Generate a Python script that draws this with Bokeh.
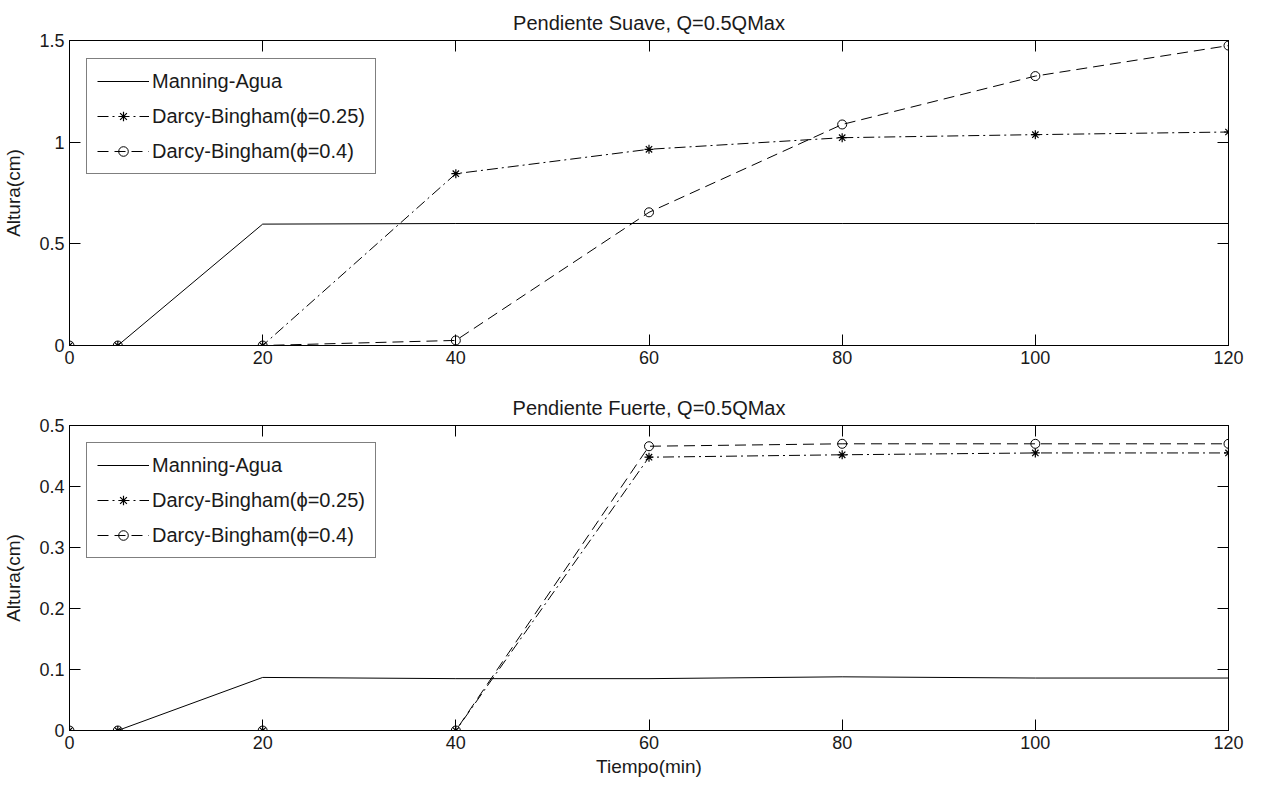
from bokeh.plotting import figure
from bokeh.layouts import column
from bokeh.models import (FixedTicker, LinearAxis, Range1d, PrintfTickFormatter,
                          Legend, LegendItem)
from bokeh.embed import file_html
from bokeh.resources import INLINE

# ---------------- data ----------------
tiempo = [0, 5, 20, 40, 60, 80, 100, 120]

suave_manning = [0, 0, 0.597, 0.600, 0.600, 0.600, 0.600, 0.600]
suave_db025 = [0, 0, 0, 0.845, 0.965, 1.022, 1.037, 1.050]
suave_db04 = [0, 0, 0, 0.025, 0.655, 1.087, 1.325, 1.475]

fuerte_manning = [0, 0, 0.087, 0.085, 0.085, 0.088, 0.086, 0.086]
fuerte_db025 = [0, 0, 0, 0, 0.448, 0.452, 0.455, 0.455]
fuerte_db04 = [0, 0, 0, 0, 0.466, 0.470, 0.470, 0.470]

x_ticks = [0, 20, 40, 60, 80, 100, 120]
suave_yticks = [0, 0.5, 1, 1.5]
fuerte_yticks = [0, 0.1, 0.2, 0.3, 0.4, 0.5]

titulo_suave = "Pendiente Suave, Q=0.5QMax"
titulo_fuerte = "Pendiente Fuerte, Q=0.5QMax"
series_labels = ["Manning-Agua", "Darcy-Bingham(\u03d5=0.25)", "Darcy-Bingham(\u03d5=0.4)"]
y_label = "Altura(cm)"
x_label = "Tiempo(min)"

FONT = "Liberation Sans"
TXT = "#1a1a1a"


def make_fig(title, manning, db025, db04, yticks, ymax, xlabel, bottom_border, leg_y):
    p = figure(frame_width=1159, frame_height=305,
               x_range=Range1d(0, 120), y_range=Range1d(0, ymax),
               output_backend="svg", toolbar_location=None,
               min_border_left=69, min_border_right=17,
               min_border_top=40, min_border_bottom=bottom_border,
               title=title)
    p.title.align = "center"
    p.title.text_font = FONT
    p.title.text_font_size = "20px"
    p.title.text_font_style = "normal"
    p.title.text_color = TXT
    p.title.standoff = 14

    p.grid.visible = False
    p.outline_line_color = "black"
    p.outline_line_width = 1
    p.background_fill_color = "white"
    p.border_fill_color = "white"

    def style_axis(ax, ticks, show_labels):
        ax.ticker = FixedTicker(ticks=ticks)
        ax.formatter = PrintfTickFormatter(format="%g")
        ax.major_tick_in = 11
        ax.major_tick_out = 0
        ax.minor_tick_line_color = None
        ax.axis_line_color = "black"
        ax.major_tick_line_color = "black"
        ax.major_label_text_font = FONT
        if show_labels:
            ax.major_label_text_color = TXT
            ax.major_label_text_font_size = "18px"
            ax.major_label_standoff = 5
        else:
            ax.major_label_text_color = None
            ax.major_label_text_font_size = "1px"
            ax.major_label_standoff = 0

    style_axis(p.xaxis[0], x_ticks, True)
    style_axis(p.yaxis[0], yticks, True)
    p.yaxis[0].axis_label = y_label
    p.yaxis[0].axis_label_text_font = FONT
    p.yaxis[0].axis_label_text_font_size = "19px"
    p.yaxis[0].axis_label_text_font_style = "normal"
    p.yaxis[0].axis_label_text_color = TXT
    p.yaxis[0].axis_label_standoff = 12
    if xlabel:
        p.xaxis[0].axis_label = xlabel
        p.xaxis[0].axis_label_text_font = FONT
        p.xaxis[0].axis_label_text_font_size = "19px"
        p.xaxis[0].axis_label_text_font_style = "normal"
        p.xaxis[0].axis_label_text_color = TXT
        p.xaxis[0].axis_label_standoff = 4

    top_ax = LinearAxis()
    style_axis(top_ax, x_ticks, False)
    p.add_layout(top_ax, "above")
    right_ax = LinearAxis()
    style_axis(right_ax, yticks, False)
    p.add_layout(right_ax, "right")

    r1 = p.line(tiempo, manning, line_color="black", line_width=1)
    r2 = p.line(tiempo, db025, line_color="black", line_width=1, line_dash="11 4 2 4")
    r2m = p.scatter(tiempo, db025, marker="asterisk", size=9,
                    line_color="black", line_width=1.2)
    r3 = p.line(tiempo, db04, line_color="black", line_width=1, line_dash="11 6")
    r3m = p.scatter(tiempo, db04, marker="circle", size=9,
                    fill_color=None, line_color="black", line_width=1)

    legend = Legend(items=[
        LegendItem(label=series_labels[0], renderers=[r1]),
        LegendItem(label=series_labels[1], renderers=[r2, r2m]),
        LegendItem(label=series_labels[2], renderers=[r3, r3m]),
    ])
    legend.location = (17, leg_y)
    legend.border_line_color = "black"
    legend.border_line_width = 1
    legend.background_fill_color = "white"
    legend.background_fill_alpha = 1
    legend.label_text_font = FONT
    legend.label_text_font_size = "20px"
    legend.label_text_color = TXT
    legend.glyph_width = 52
    legend.glyph_height = 24
    legend.label_height = 24
    legend.spacing = 11
    legend.padding = 10
    legend.label_standoff = 3
    p.add_layout(legend)
    return p


p1 = make_fig(titulo_suave, suave_manning, suave_db025, suave_db04,
              suave_yticks, 1.5, None, 40, 171)
p2 = make_fig(titulo_fuerte, fuerte_manning, fuerte_db025, fuerte_db04,
              fuerte_yticks, 0.5, x_label, 53, 172)

layout = column(p1, p2, spacing=0)
open("out.html", "w").write(file_html(layout, INLINE))
